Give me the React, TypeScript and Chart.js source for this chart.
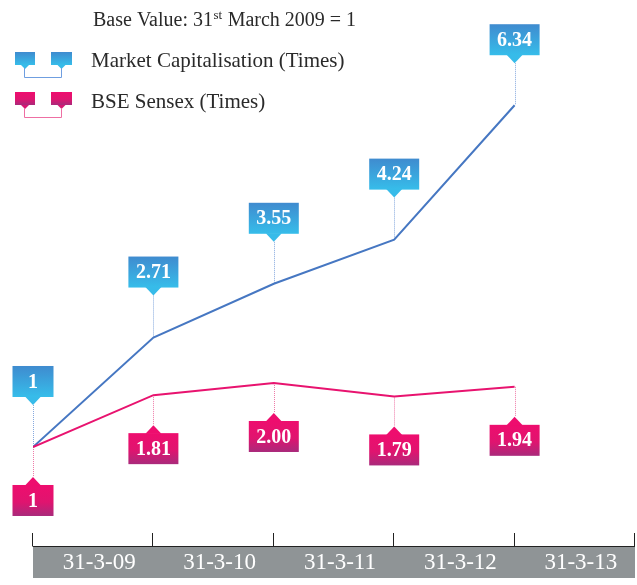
import React, { useEffect, useRef } from "react";
import { Chart, registerables } from "chart.js";

Chart.register(...registerables);

const categories = ["31-3-09", "31-3-10", "31-3-11", "31-3-12", "31-3-13"];
const pointPositions = [0, 1, 2, 3, 4];
const marketCap = [1, 2.71, 3.55, 4.24, 6.34];
const sensex = [1, 1.81, 2.0, 1.79, 1.94];
const marketLabels = ["1", "2.71", "3.55", "4.24", "6.34"];
const sensexLabels = ["1", "1.81", "2.00", "1.79", "1.94"];
const seriesNames = ["Market Capitalisation (Times)", "BSE Sensex (Times)"];
const baseTitle = ["Base Value: 31", "st", " March 2009 = 1"];

const BLUE_LINE = "#4677c2";
const PINK_LINE = "#e8136f";
const SERIF = "'Liberation Serif', 'DejaVu Serif', serif";

function blueGrad(ctx: CanvasRenderingContext2D, y0: number, y1: number) {
  const g = ctx.createLinearGradient(0, y0, 0, y1);
  g.addColorStop(0, "#3f8bcf");
  g.addColorStop(1, "#36bdea");
  return g;
}
function pinkGrad(ctx: CanvasRenderingContext2D, y0: number, y1: number) {
  const g = ctx.createLinearGradient(0, y0, 0, y1);
  g.addColorStop(0, "#ee0d6e");
  g.addColorStop(0.55, "#e0146f");
  g.addColorStop(1, "#a92a7b");
  return g;
}

const overlay = {
  id: "overlay",
  beforeDatasetsDraw(chart: any) {
    const ctx: CanvasRenderingContext2D = chart.ctx;
    const xs = chart.scales.x;
    const ys = chart.scales.y;
    ctx.save();
    ctx.lineWidth = 1;
    ctx.setLineDash([1, 1]);
    pointPositions.forEach((p, i) => {
      const x = Math.round(xs.getPixelForValue(p)) + 0.5;
      const ym = ys.getPixelForValue(marketCap[i]);
      ctx.strokeStyle = "#86a9de";
      ctx.beginPath();
      ctx.moveTo(x, ym - 42);
      ctx.lineTo(x, ym);
      ctx.stroke();
      const yss = ys.getPixelForValue(sensex[i]);
      ctx.strokeStyle = "#ee7aa8";
      ctx.beginPath();
      ctx.moveTo(x, yss);
      ctx.lineTo(x, yss + 30);
      ctx.stroke();
    });
    ctx.restore();
  },
  afterDatasetsDraw(chart: any) {
    const ctx: CanvasRenderingContext2D = chart.ctx;
    const xs = chart.scales.x;
    const ys = chart.scales.y;
    const area = chart.chartArea;
    ctx.save();
    ctx.setLineDash([]);

    // callouts
    ctx.font = "bold 20px " + SERIF;
    ctx.textAlign = "center";
    ctx.textBaseline = "middle";
    pointPositions.forEach((p, i) => {
      const x = xs.getPixelForValue(p);
      const ym = ys.getPixelForValue(marketCap[i]);
      const tip = ym - 42;
      const bh = 31;
      const bBottom = tip - 8;
      const bTop = bBottom - bh;
      let tw = ctx.measureText(marketLabels[i]).width;
      let bw = Math.max(41, tw + 15);
      ctx.fillStyle = blueGrad(ctx, bTop, bBottom);
      ctx.fillRect(x - bw / 2, bTop, bw, bh);
      ctx.fillStyle = "#37bbe9";
      ctx.beginPath();
      ctx.moveTo(x - 8, bBottom - 0.5);
      ctx.lineTo(x + 8, bBottom - 0.5);
      ctx.lineTo(x, tip);
      ctx.closePath();
      ctx.fill();
      ctx.fillStyle = "#ffffff";
      ctx.fillText(marketLabels[i], x, bTop + bh / 2 + 1);

      const ys2 = ys.getPixelForValue(sensex[i]);
      const tip2 = ys2 + 30;
      const pTop = tip2 + 8;
      tw = ctx.measureText(sensexLabels[i]).width;
      bw = Math.max(41, tw + 15);
      ctx.fillStyle = pinkGrad(ctx, pTop, pTop + bh);
      ctx.fillRect(x - bw / 2, pTop, bw, bh);
      ctx.fillStyle = "#ee0d6e";
      ctx.beginPath();
      ctx.moveTo(x - 8, pTop + 0.5);
      ctx.lineTo(x + 8, pTop + 0.5);
      ctx.lineTo(x, tip2);
      ctx.closePath();
      ctx.fill();
      ctx.fillStyle = "#ffffff";
      ctx.fillText(sensexLabels[i], x, pTop + bh / 2 + 1);
    });

    // axis band
    const base = area.bottom;
    const left = xs.getPixelForValue(0);
    const right = xs.getPixelForValue(categories.length);
    ctx.fillStyle = "#8f9496";
    ctx.fillRect(left, base, right - left, 32);
    ctx.strokeStyle = "#222222";
    ctx.lineWidth = 1;
    ctx.beginPath();
    ctx.moveTo(left, base + 0.5);
    ctx.lineTo(right, base + 0.5);
    for (let i = 0; i <= categories.length; i++) {
      const tx = Math.round(xs.getPixelForValue(i)) - 0.5;
      ctx.moveTo(tx, base - 13);
      ctx.lineTo(tx, base + 0.5);
    }
    ctx.stroke();
    ctx.fillStyle = "#ffffff";
    ctx.font = "23px " + SERIF;
    ctx.textAlign = "center";
    ctx.textBaseline = "middle";
    categories.forEach((c, i) => {
      ctx.fillText(c, xs.getPixelForValue(i + 0.55), base + 17);
    });

    // title
    ctx.fillStyle = "#2a2a2a";
    ctx.textAlign = "left";
    ctx.textBaseline = "alphabetic";
    let tx = 93;
    ctx.font = "20px " + SERIF;
    ctx.fillText(baseTitle[0], tx, 26);
    tx += ctx.measureText(baseTitle[0]).width;
    ctx.font = "13px " + SERIF;
    ctx.fillText(baseTitle[1], tx + 0.5, 19);
    tx += ctx.measureText(baseTitle[1]).width + 1;
    ctx.font = "20px " + SERIF;
    ctx.fillText(baseTitle[2], tx, 26);

    // legend
    const drawIcon = (y: number, fill: (a: number, b: number) => any, pointerCol: string, lineCol: string) => {
      const rects = [
        [15, 20],
        [51, 21],
      ];
      rects.forEach(([rx, rw]) => {
        ctx.fillStyle = fill(y, y + 13);
        ctx.fillRect(rx, y, rw, 13);
        const cx = rx + rw / 2;
        ctx.fillStyle = pointerCol;
        ctx.beginPath();
        ctx.moveTo(cx - 4, y + 13);
        ctx.lineTo(cx + 4, y + 13);
        ctx.lineTo(cx, y + 17);
        ctx.closePath();
        ctx.fill();
      });
      ctx.strokeStyle = lineCol;
      ctx.lineWidth = 1;
      ctx.beginPath();
      ctx.moveTo(24.5, y + 16);
      ctx.lineTo(24.5, y + 25.5);
      ctx.lineTo(61.5, y + 25.5);
      ctx.lineTo(61.5, y + 16);
      ctx.stroke();
    };
    drawIcon(52, (a, b) => blueGrad(ctx, a, b), "#37bbe9", "#6f9ee0");
    drawIcon(92, (a, b) => pinkGrad(ctx, a, b), "#d61773", "#ee6fa3");

    ctx.fillStyle = "#2a2a2a";
    ctx.font = "21px " + SERIF;
    ctx.textAlign = "left";
    ctx.textBaseline = "alphabetic";
    ctx.fillText(seriesNames[0], 91, 67);
    ctx.fillText(seriesNames[1], 91, 108);

    ctx.restore();
  },
};

export default function App() {
  const ref = useRef<HTMLCanvasElement | null>(null);
  useEffect(() => {
    document.body.style.margin = "0";
    const canvas = ref.current;
    if (!canvas) return;
    const chart = new Chart(canvas, {
      type: "line",
      data: {
        datasets: [
          {
            label: seriesNames[1],
            data: pointPositions.map((p, i) => ({ x: p, y: sensex[i] })),
            borderColor: PINK_LINE,
            borderWidth: 2,
            pointRadius: 0,
            tension: 0,
          },
          {
            label: seriesNames[0],
            data: pointPositions.map((p, i) => ({ x: p, y: marketCap[i] })),
            borderColor: BLUE_LINE,
            borderWidth: 2,
            pointRadius: 0,
            tension: 0,
          },
        ],
      },
      options: {
        responsive: false,
        animation: false,
        layout: { padding: { left: 33, right: 2, top: 0, bottom: 39 } },
        plugins: { legend: { display: false }, tooltip: { enabled: false } },
        scales: {
          x: { type: "linear", min: 0, max: categories.length, display: false },
          y: { type: "linear", min: -0.547, max: 7.984, display: false },
        },
      },
      plugins: [overlay],
    });
    return () => chart.destroy();
  }, []);
  return (
    <div style={{ position: "absolute", left: 0, top: 0, width: 637, height: 585 }}>
      <canvas ref={ref} width={637} height={585} />
    </div>
  );
}
